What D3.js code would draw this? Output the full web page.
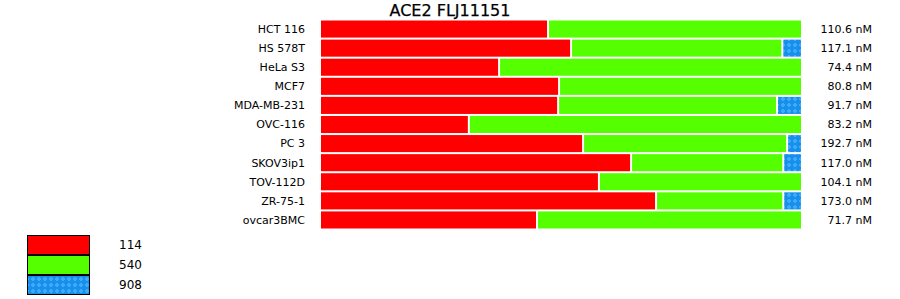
<!DOCTYPE html>
<html><head><meta charset="utf-8">
<script src="https://cdn.jsdelivr.net/npm/d3@7"></script>
<style>body{margin:0;background:#fff;} svg{display:block;font-family:"DejaVu Sans",Verdana,sans-serif;}</style>
</head><body>
<svg id="c" width="900" height="299"></svg>
<script>
const title = "ACE2 FLJ11151";
const categories = ["HCT 116","HS 578T","HeLa S3","MCF7","MDA-MB-231","OVC-116","PC 3","SKOV3ip1","TOV-112D","ZR-75-1","ovcar3BMC"];
const seriesNames = ["114","540","908"];
const s114 = [47.3,52.1,37.1,49.6,49.4,30.8,54.6,64.6,57.9,69.8,45.0];
const s540 = [52.7,44.0,62.9,50.4,45.6,69.2,42.5,31.7,42.1,26.5,55.0];
const s908 = [0,3.9,0,0,5.0,0,2.9,3.7,0,3.7,0];
const totals = ["110.6 nM","117.1 nM","74.4 nM","80.8 nM","91.7 nM","83.2 nM","192.7 nM","117.0 nM","104.1 nM","173.0 nM","71.7 nM"];
const colors = ["#ff0000","#55ff00","url(#dots)"];

const svg = d3.select("#c");
const defs = svg.append("defs");
const pat = defs.append("pattern").attr("id","dots").attr("patternUnits","userSpaceOnUse")
  .attr("width",6).attr("height",6);
pat.append("rect").attr("width",6).attr("height",6).attr("fill","#1690e8");
pat.append("rect").attr("x",1).attr("y",2).attr("width",4).attr("height",2).attr("fill","#3fa9ff");
pat.append("rect").attr("x",2).attr("y",1).attr("width",2).attr("height",4).attr("fill","#3fa9ff");

const x = d3.scaleLinear().domain([0,100]).range([321,801]);
const y = d3.scaleBand().domain(categories).range([20,229]).paddingInner(2/19).paddingOuter(0.5/19);

svg.append("text").attr("x",450).attr("y",16).attr("text-anchor","middle")
  .attr("font-size",16).attr("fill","#000").attr("stroke","#000").attr("stroke-width",0.25).text(title);

const rows = categories.map((c,i)=>{
  const vals=[s114[i],s540[i],s908[i]];
  let acc=0;
  return vals.map((v,k)=>{const o={cat:c,k,x0:acc,x1:acc+v};acc+=v;return o;}).filter(d=>d.x1>d.x0);
}).flat();

svg.append("g").selectAll("rect").data(rows).join("rect")
  .attr("x",d=>x(d.x0)+(d.k>0?1:0))
  .attr("y",d=>y(d.cat))
  .attr("width",d=>x(d.x1)-x(d.x0)-(d.k>0?1:0)-(d.x1<99.9?1:0))
  .attr("height",y.bandwidth())
  .attr("fill",d=>colors[d.k]);

svg.append("g").selectAll("text").data(categories).join("text")
  .attr("x",305).attr("y",d=>y(d)+y.bandwidth()/2).attr("dy","0.35em")
  .attr("text-anchor","end").attr("font-size",11).attr("fill","#000").text(d=>d);

svg.append("g").selectAll("text").data(totals).join("text")
  .attr("x",872).attr("y",(d,i)=>y(categories[i])+y.bandwidth()/2).attr("dy","0.35em")
  .attr("text-anchor","end").attr("font-size",11).attr("fill","#000").text(d=>d);

const ly = d3.scaleBand().domain(seriesNames).range([235,295]);
const lg = svg.append("g");
lg.selectAll("rect").data(seriesNames).join("rect")
  .attr("x",27.5).attr("y",d=>ly(d)+0.5).attr("width",62).attr("height",ly.bandwidth()-1)
  .attr("fill",(d,i)=>colors[i]).attr("stroke","#000").attr("stroke-width",1);
lg.selectAll("text").data(seriesNames).join("text")
  .attr("x",119).attr("y",d=>ly(d)+ly.bandwidth()/2).attr("dy","0.35em")
  .attr("font-size",12).attr("fill","#000").text(d=>d);
</script>
</body></html>
